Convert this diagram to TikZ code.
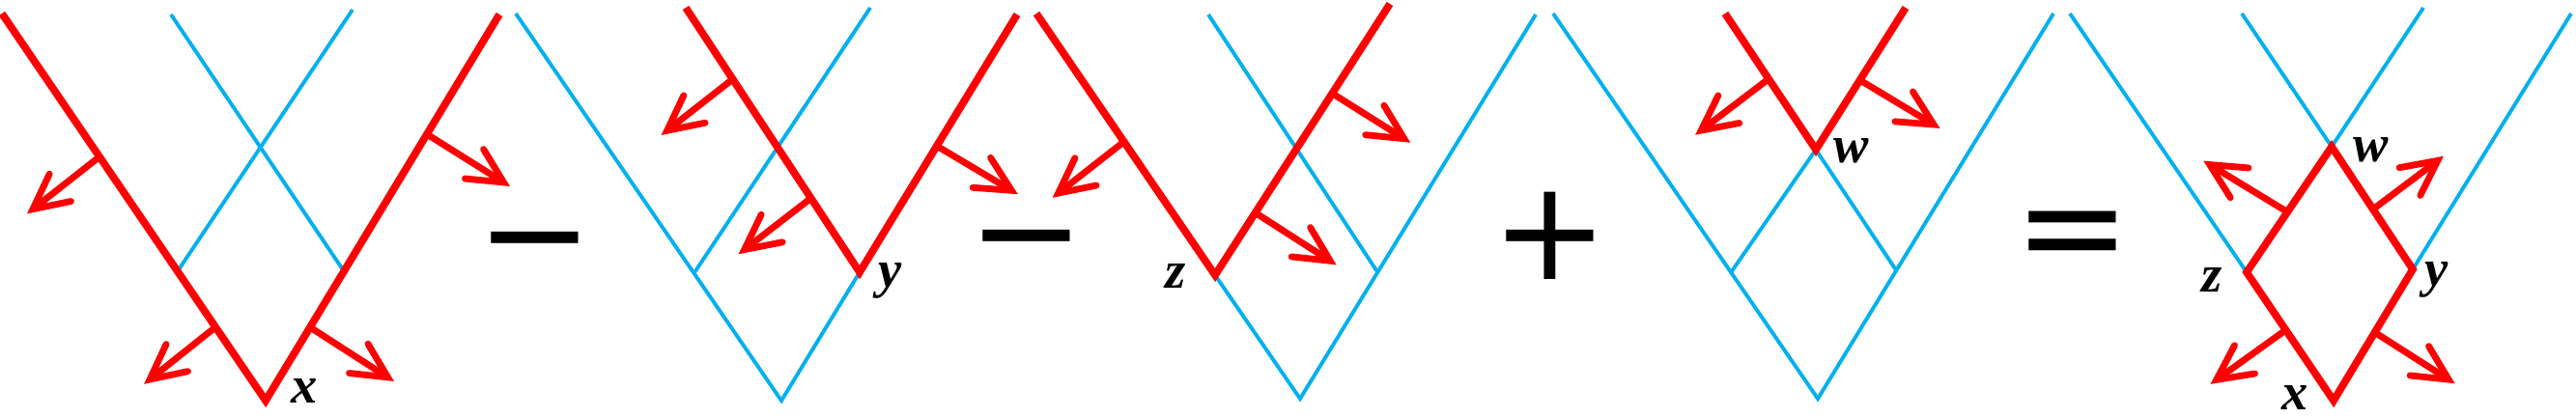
\documentclass[tikz,border=0pt]{standalone}
\usepackage{fontspec}
\usetikzlibrary{calc}
\usetikzlibrary{arrows.meta}
\usepackage{xcolor}
\definecolor{sky}{RGB}{0,176,240}
\newfontfamily\labelfont{Liberation Serif}
\newfontfamily\opfont{DejaVu Sans}
\tikzset{
 redline/.style={red, line width=2.2pt, line join=miter},
 skyline/.style={sky, line width=1.1pt},
 normal/.style={red, line width=1.95pt, line cap=round, -{Straight Barb[length=3.6mm, width=3.6mm, line cap=round, line join=miter]}},
 lbl/.style={inner sep=0, font=\labelfont\bfseries\itshape\fontsize{15.5}{18}\selectfont},
 op/.style={inner sep=0, anchor=base, font=\opfont\fontsize{41}{41}\selectfont}
}
\begin{document}
\begin{tikzpicture}
\useasboundingbox (0,0) rectangle (26.67,4.32);
\coordinate (a1) at (0.02,4.18);
\coordinate (x1) at (2.75,0.17);
\coordinate (b1) at (5.17,4.17);
\coordinate (c1) at (1.77,4.17);
\coordinate (d1) at (3.65,4.22);
\draw[skyline] (c1) -- ($(x1)!.335!(b1)$);
\draw[skyline] (d1) -- ($(a1)!.666!(x1)$);
\draw[redline] (a1) -- (x1) -- (b1);
\draw[normal] ($(a1)!.37!(x1)$) --++(-.75,-.59);
\draw[normal] ($(a1)!.81!(x1)$) --++(-.74,-.59);
\draw[normal] ($(x1)!.69!(b1)$) --++(.86,-.54);
\draw[normal] ($(x1)!.19!(b1)$) --++(.87,-.56);
\node[lbl] (lx1) at (3.15,0.27) {x};
\node[op] (minus1) at (5.54,1.41) {−};

\coordinate (a2) at (7.10,4.24);
\coordinate (y2) at (8.90,1.50);
\coordinate (b2) at (10.53,4.17);
\coordinate (c2) at (5.34,4.18);
\coordinate (v2) at (8.09,0.17);
\coordinate (d2) at (9.01,4.24);
\draw[skyline] (c2) -- (v2) -- (y2);
\draw[skyline] (d2) -- ($(c2)!.671!(v2)$);
\draw[redline] (a2) -- (y2) -- (b2);
\draw[normal] ($(a2)!.27!(y2)$) --++(-.74,-.58);
\draw[normal] ($(a2)!.72!(y2)$) --++(-.75,-.58);
\draw[normal] ($(y2)!.49!(b2)$) --++(.84,-.50);
\node[lbl] (ly2) at (9.22,1.41) {y};
\node[op] (minus2) at (10.63,1.43) {−};

\coordinate (a3) at (10.73,4.18);
\coordinate (z3) at (12.58,1.47);
\coordinate (b3) at (14.39,4.28);
\coordinate (v3) at (13.46,0.19);
\coordinate (c3) at (15.90,4.17);
\coordinate (d3) at (12.51,4.17);
\draw[skyline] (z3) -- (v3) -- (c3);
\draw[skyline] (d3) -- ($(v3)!.329!(c3)$);
\draw[redline] (a3) -- (z3) -- (b3);
\draw[normal] ($(a3)!.49!(z3)$) --++(-.74,-.58);
\draw[normal] ($(z3)!.67!(b3)$) --++(.81,-.51);
\draw[normal] ($(z3)!.23!(b3)$) --++(.84,-.54);
\node[lbl] (lz3) at (12.17,1.46) {z};
\node[op] (plus) at (16.05,1.43) {+};

\coordinate (c4) at (16.08,4.18);
\coordinate (v4) at (18.82,0.19);
\coordinate (d4) at (21.26,4.18);
\coordinate (w4) at (18.80,2.77);
\coordinate (a4) at (17.86,4.18);
\coordinate (b4) at (19.73,4.24);
\draw[skyline] (c4) -- (v4) -- (d4);
\draw[skyline] ($(c4)!.672!(v4)$) -- (w4) -- ($(v4)!.333!(d4)$);
\draw[redline] (a4) -- (w4) -- (b4);
\draw[normal] ($(a4)!.48!(w4)$) --++(-.76,-.58);
\draw[normal] ($(w4)!.49!(b4)$) --++(.83,-.50);
\node[lbl] (lw4) at (19.17,2.76) {w};
\node[op] (equals) at (21.455,1.48) {=};

\coordinate (w5) at (24.14,2.80);
\coordinate (z5) at (23.26,1.50);
\coordinate (y5) at (24.98,1.53);
\coordinate (x5) at (24.16,0.17);
\coordinate (c5) at (21.43,4.18);
\coordinate (d5) at (23.21,4.18);
\coordinate (e5) at (25.09,4.24);
\coordinate (f5) at (26.62,4.18);
\draw[skyline] (c5) -- (z5);
\draw[skyline] (d5) -- (w5) -- (e5);
\draw[skyline] (f5) -- (y5);
\draw[redline] (w5) -- (y5) -- (x5) -- (z5) -- cycle;
\draw[normal] ($(z5)!.48!(w5)$) --++(-.87,.53);
\draw[normal] ($(w5)!.51!(y5)$) --++(.73,.55);
\draw[normal] ($(z5)!.45!(x5)$) --++(-.78,-.56);
\draw[normal] ($(x5)!.52!(y5)$) --++(.83,-.53);
\node[lbl] (lw5) at (24.55,2.77) {w};
\node[lbl] (lz5) at (22.90,1.42) {z};
\node[lbl] (ly5) at (25.23,1.42) {y};
\node[lbl] (lx5) at (23.76,0.20) {x};
\end{tikzpicture}
\end{document}
